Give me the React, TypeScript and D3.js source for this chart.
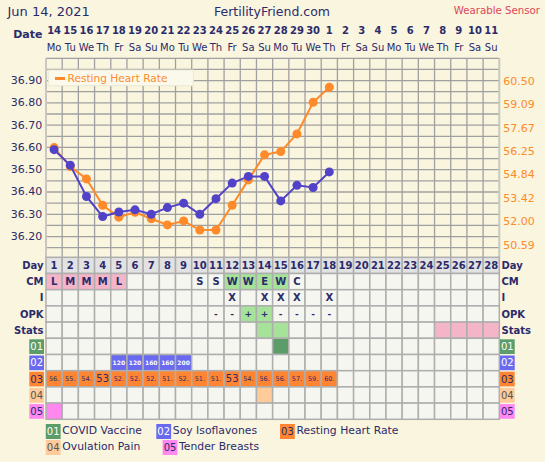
import React from "react";
import * as d3 from "d3";

const dateNums = ["14","15","16","17","18","19","20","21","22","23","24","25","26","27","28","29","30","1","2","3","4","5","6","7","8","9","10","11"];
const weekdays = ["Mo","Tu","We","Th","Fr","Sa","Su","Mo","Tu","We","Th","Fr","Sa","Su","Mo","Tu","We","Th","Fr","Sa","Su","Mo","Tu","We","Th","Fr","Sa","Su"];
const cycleDays = d3.range(1, 29);

// temperature (left axis)
const temps = [36.59, 36.52, 36.38, 36.29, 36.31, 36.32, 36.30, 36.33, 36.35, 36.30, 36.37, 36.44, 36.47, 36.47, 36.36, 36.43, 36.42, 36.49];
// resting heart rate (right axis)
const heartRate = [56.5, 55.35, 54.6, 53, 52.28, 52.58, 52.18, 51.81, 52.05, 51.5, 51.5, 53, 54.54, 56.06, 56.26, 57.33, 59.25, 60.16];

const leftTicks = [36.9, 36.8, 36.7, 36.6, 36.5, 36.4, 36.3, 36.2];
const rightTicks = [60.5, 59.09, 57.67, 56.25, 54.84, 53.42, 52.0, 50.59];

const cm = ["L","M","M","M","L","","","","","S","S","W","W","E","W","C"];
const intercourseDays = [12, 14, 15, 16, 18];
const opk = ["","","","","","","","","","","-","-","+","+","-","-","-","-"];
const statsGreen = [14, 15];
const statsPink = [25, 26, 27, 28];
const code01Days = [15];
const code02Days = [5, 6, 7, 8, 9];
const code02Values = [120, 120, 160, 160, 200];
const code04Days = [14];
const code05Days = [1];

const codeNames = ["COVID Vaccine", "Soy Isoflavones", "Resting Heart Rate", "Ovulation Pain", "Tender Breasts"];
const codeIds = ["01", "02", "03", "04", "05"];

const NAVY = "#2b2b6b";
const BLUE = "#5242c8";
const ORANGE = "#ff8a2a";
const BG = "#f9f5df";
const CELL = "#f6f6f0";
const BORDER = "#aeaeae";
const PINK = "#f5b5c8";
const LGREEN = "#a6e29a";
const DGREEN = "#5c9c68";
const C02 = "#6a6af0";
const C03 = "#ff8533";
const C04 = "#ffcb9a";
const C05 = "#ff88f0";
const codeColors = [DGREEN, C02, C03, C04, C05];
const codeText = ["#ffffff", "#ffffff", NAVY, "#555555", NAVY];

const FONT = "DejaVu Sans, Verdana, sans-serif";

export default function App() {
  const x = d3.scaleBand<number>().domain(cycleDays).range([46, 499.3]).padding(0);
  const bw = x.bandwidth();
  const cx = (d: number) => (x(d) as number) + bw / 2;
  const yL = d3.scaleLinear().domain([36.15, 37.0]).range([247.7, 58.3]);
  const yR = d3.scaleLinear().domain([50.59, 60.5]).range([245, 81.7]);
  const plotTop = 58.3, plotBottom = 257;
  const rowTop = 257.3, rowH = 16.2;
  const rowY = (i: number) => rowTop + i * rowH;

  const tempLine = d3.line<number>().x((_, i) => cx(i + 1)).y((v) => yL(v));
  const hrLine = d3.line<number>().x((_, i) => cx(i + 1)).y((v) => yR(v));

  const hGrid = d3.range(0, 18).map((i) => yL(37.0 - i * 0.05));
  const vGrid = d3.range(0, 29).map((k) => 46 + k * bw);

  const rowLabels = ["Day", "CM", "I", "OPK", "Stats"];

  const cellFill = (row: number, d: number): string => {
    if (row === 0) return "#e2e2e2";
    if (row === 1) {
      const c = cm[d - 1] || "";
      if (c === "L" || c === "M") return PINK;
      if (c === "W" || c === "E") return LGREEN;
      return CELL;
    }
    if (row === 3) return opk[d - 1] === "+" ? LGREEN : CELL;
    if (row === 4) {
      if (statsGreen.includes(d)) return LGREEN;
      if (statsPink.includes(d)) return PINK;
      return CELL;
    }
    if (row === 5) return code01Days.includes(d) ? DGREEN : CELL;
    if (row === 6) return code02Days.includes(d) ? C02 : CELL;
    if (row === 7) return d <= heartRate.length ? C03 : CELL;
    if (row === 8) return code04Days.includes(d) ? C04 : CELL;
    if (row === 9) return code05Days.includes(d) ? C05 : CELL;
    return CELL;
  };

  const cellText = (row: number, d: number) => {
    const yc = rowY(row) + rowH / 2;
    const common = { x: cx(d), textAnchor: "middle" as const, dominantBaseline: "central" as const, fontFamily: FONT };
    if (row === 0) return <text {...common} y={yc} fontSize={10} fontWeight="bold" fill={NAVY}>{d}</text>;
    if (row === 1 && cm[d - 1]) return <text {...common} y={yc} fontSize={10} fontWeight="bold" fill={NAVY}>{cm[d - 1]}</text>;
    if (row === 2 && intercourseDays.includes(d)) return <text {...common} y={yc} fontSize={10} fontWeight="bold" fill={NAVY}>X</text>;
    if (row === 3 && opk[d - 1]) return <text {...common} y={yc} fontSize={9} fontWeight="bold" fill={NAVY}>{opk[d - 1]}</text>;
    if (row === 6) {
      const idx = code02Days.indexOf(d);
      if (idx >= 0) return <text {...common} y={yc} fontSize={6} fontWeight="bold" fill="#ffffff">{code02Values[idx]}</text>;
    }
    if (row === 7 && d <= heartRate.length) {
      const v = heartRate[d - 1];
      const isInt = Number.isInteger(v);
      return <text {...common} y={yc} fontSize={isInt ? 10 : 6.5} fill={NAVY}>{isInt ? String(v) : Math.floor(v) + "."}</text>;
    }
    return null;
  };

  return (
    <svg width={545} height={462} style={{ position: "fixed", left: 0, top: 0 }} fontFamily={FONT}>
      <rect x={0} y={0} width={545} height={462} fill={BG} />
      {/* header */}
      <text x={7.5} y={11} dominantBaseline="central" fontSize={13} fill={NAVY}>Jun 14, 2021</text>
      <text x={272} y={11} textAnchor="middle" dominantBaseline="central" fontSize={12.5} fill={NAVY}>FertilityFriend.com</text>
      <text x={540} y={10} textAnchor="end" dominantBaseline="central" fontSize={10.2} fill="#e04455">Wearable Sensor</text>
      <text x={42.5} y={34.5} textAnchor="end" dominantBaseline="central" fontSize={11} fontWeight="bold" fill={NAVY}>Date</text>
      {cycleDays.map((d, i) => (
        <g key={"h" + d}>
          <text x={cx(d)} y={30.5} textAnchor="middle" dominantBaseline="central" fontSize={10} fontWeight="bold" fill={NAVY}>{dateNums[i]}</text>
          <text x={cx(d)} y={47.5} textAnchor="middle" dominantBaseline="central" fontSize={10} fill={NAVY}>{weekdays[i]}</text>
        </g>
      ))}

      {/* plot grid */}
      {hGrid.map((y, i) => (
        <line key={"hg" + i} x1={46} x2={499.3} y1={y} y2={y} stroke="#a0a0a0" strokeWidth={1.3} />
      ))}
      {vGrid.map((xv, i) => (
        <line key={"vg" + i} x1={xv} x2={xv} y1={plotTop} y2={plotBottom}
          stroke={i === 0 || i === 28 ? "#c8c8c0" : "#a0a0a0"} strokeWidth={i === 0 || i === 28 ? 2 : 1.3} />
      ))}

      {/* axes labels */}
      {leftTicks.map((t) => (
        <text key={"lt" + t} x={42.3} y={yL(t)} textAnchor="end" dominantBaseline="central" fontSize={11} fill={NAVY}>{t.toFixed(2)}</text>
      ))}
      {rightTicks.map((t) => (
        <text key={"rt" + t} x={503.3} y={yR(t)} dominantBaseline="central" fontSize={11} fill={ORANGE}>{t.toFixed(2)}</text>
      ))}

      {/* legend inside plot */}
      <rect x={48.3} y={70} width={145} height={15.7} fill="#fbf9ec" stroke="#ece8d4" strokeWidth={1} />
      <line x1={55} x2={65} y1={78.5} y2={78.5} stroke={ORANGE} strokeWidth={3} />
      <text x={67.5} y={77.7} dominantBaseline="central" fontSize={10.6} fill={ORANGE}>Resting Heart Rate</text>

      {/* series */}
      <path d={hrLine(heartRate) || ""} fill="none" stroke={ORANGE} strokeWidth={2} />
      {heartRate.map((v, i) => (
        <circle key={"hr" + i} cx={cx(i + 1)} cy={yR(v)} r={4.5} fill={ORANGE} />
      ))}
      <path d={tempLine(temps) || ""} fill="none" stroke={BLUE} strokeWidth={2} />
      {temps.map((v, i) => (
        <circle key={"tp" + i} cx={cx(i + 1)} cy={yL(v)} r={4.5} fill={BLUE} />
      ))}

      {/* table */}
      {d3.range(0, 10).map((row) => (
        <g key={"row" + row}>
          {cycleDays.map((d) => (
            <rect key={"c" + row + "-" + d} x={x(d) as number} y={rowY(row)} width={bw} height={rowH}
              fill={cellFill(row, d)} stroke={BORDER} strokeWidth={1.5} />
          ))}
          {cycleDays.map((d) => <React.Fragment key={"t" + row + "-" + d}>{cellText(row, d)}</React.Fragment>)}
        </g>
      ))}
      {rowLabels.map((l, i) => (
        <g key={"rl" + l}>
          <text x={43.5} y={rowY(i) + rowH / 2} textAnchor="end" dominantBaseline="central" fontSize={10} fontWeight="bold" fill={NAVY}>{l}</text>
          <text x={501.5} y={rowY(i) + rowH / 2} dominantBaseline="central" fontSize={10} fontWeight="bold" fill={NAVY}>{l}</text>
        </g>
      ))}
      {codeIds.map((c, i) => {
        const r = i + 5;
        return (
          <g key={"code" + c}>
            <rect x={29.3} y={rowY(r) + 1} width={14.7} height={rowH - 1.5} fill={codeColors[i]} />
            <text x={36.7} y={rowY(r) + rowH / 2 + 0.3} textAnchor="middle" dominantBaseline="central" fontSize={10} fill={codeText[i]}>{c}</text>
            <rect x={500} y={rowY(r) + 1} width={14.7} height={rowH - 1.5} fill={codeColors[i]} />
            <text x={507.3} y={rowY(r) + rowH / 2 + 0.3} textAnchor="middle" dominantBaseline="central" fontSize={10} fill={codeText[i]}>{c}</text>
          </g>
        );
      })}

      {/* bottom legend */}
      {codeIds.map((c, i) => {
        const pos = [[45.8, 424], [156.3, 424], [280, 424], [45.8, 440], [162.6, 440]][i];
        return (
          <g key={"lg" + c}>
            <rect x={pos[0]} y={pos[1]} width={14.8} height={15} fill={codeColors[i]} />
            <text x={pos[0] + 7.4} y={pos[1] + 7.8} textAnchor="middle" dominantBaseline="central" fontSize={10} fill={codeText[i]}>{c}</text>
            <text x={pos[0] + 16.5} y={pos[1] + 6.5} dominantBaseline="central" fontSize={10.8} fill={NAVY}>{codeNames[i]}</text>
          </g>
        );
      })}
    </svg>
  );
}
